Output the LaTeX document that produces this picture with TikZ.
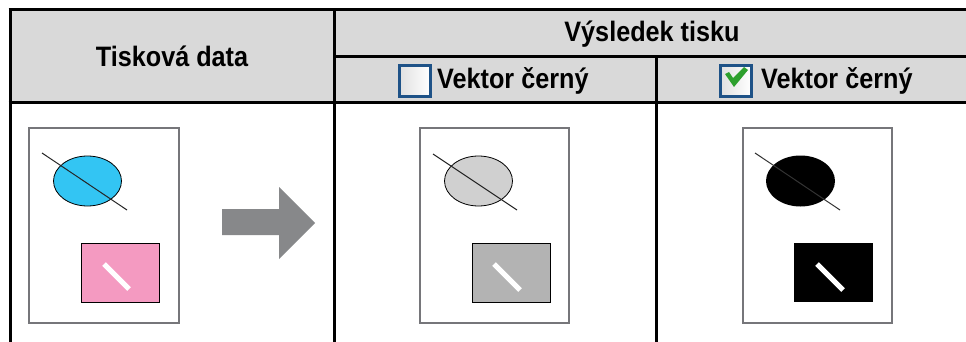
\documentclass[tikz,border=0pt]{standalone}
\usepackage{fontspec}
\setmainfont{Liberation Sans}
\definecolor{hdr}{HTML}{D9D9D9}
\definecolor{pagegray}{HTML}{76767A}
\definecolor{cyanfill}{HTML}{33C5F3}
\definecolor{pinkfill}{HTML}{F49AC1}
\definecolor{arrowgray}{HTML}{87888A}
\definecolor{boxblue}{HTML}{1E5287}
\definecolor{checkgreen}{HTML}{2DA02D}
\definecolor{lgray}{HTML}{D0D0D0}
\definecolor{mgray}{HTML}{B3B3B3}
\newcommand{\tallt}[1]{\scalebox{0.97}[1.08]{#1}}
\tikzset{
  tline/.style={line width=3pt, black},
  htext/.style={font=\fontsize{26}{30}\selectfont\bfseries, inner sep=0pt, anchor=center},
  pagebox/.style={draw=pagegray, line width=2.5pt, fill=white},
  diag/.style={line width=1pt, black!85},
  whitebar/.style={line width=5pt, white},
  cbox/.style={draw=boxblue, line width=3pt, left color=black!12, right color=white, minimum width=31pt, minimum height=31pt, inner sep=0pt},
}
\begin{document}
\begin{tikzpicture}[x=1pt,y=-1pt]
\useasboundingbox (0,0) rectangle (966,342);
% header background
\fill[hdr] (10,10) rectangle (966,103);
% table lines
\draw[tline] (8.5,10) -- (966,10);
\draw[tline] (334,57) -- (966,57);
\draw[tline] (8.5,103) -- (966,103);
\draw[tline] (10,8.5) -- (10,342);
\draw[tline] (334,8.5) -- (334,342);
\draw[tline] (656,57) -- (656,342);
% header texts
\node[htext] (tdata) at (172,56) {\tallt{Tisková data}};
\node[htext] (vysl) at (652,34) {\tallt{Výsledek tisku}};
\node[cbox] (cb1) at (415,81) {};
\node[htext, anchor=west] (vek1) at (437,81) {\tallt{Vektor černý}};
\node[cbox] (cb2) at (736,81) {};
\node[htext, anchor=west] (vek2) at (761,81) {\tallt{Vektor černý}};
\fill[checkgreen] (725,74) -- (729,72) -- (733,78) -- (744,67) -- (748,70) -- (734,87) -- cycle;
% column 1: original data
\draw[pagebox] (29,128) rectangle (179,323);
\draw[black, line width=0.8pt, fill=cyanfill] (87.5,181) ellipse [x radius=34, y radius=25];
\draw[diag] (42,153) -- (127,210);
\draw[black, line width=0.8pt, fill=pinkfill] (81,243) rectangle (159,302);
\draw[whitebar] (104,264) -- (129,289);
% arrow
\fill[arrowgray] (222,209) -- (279,209) -- (279,187) -- (315,223) -- (279,259) -- (279,235) -- (222,235) -- cycle;
% column 2: unchecked
\draw[pagebox] (420,128) rectangle (569,323);
\draw[black, line width=0.8pt, fill=lgray] (478.5,181) ellipse [x radius=34, y radius=25];
\draw[diag] (433,154) -- (517,210);
\draw[black, line width=0.8pt, fill=mgray] (472,243) rectangle (550,302);
\draw[whitebar] (494,264) -- (520,290);
% column 3: checked
\draw[pagebox] (743,128) rectangle (892,323);
\fill[black] (800.5,181) ellipse [x radius=34.5, y radius=25.5];
\draw[diag, black!80] (755,153) -- (840,210);
\fill[black] (794,243) rectangle (873,302);
\draw[whitebar] (817,264) -- (843,290);
\end{tikzpicture}
\end{document}
